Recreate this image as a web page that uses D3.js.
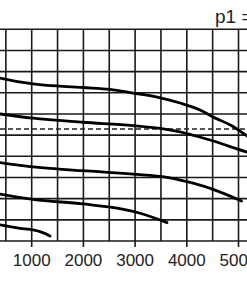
<!DOCTYPE html>
<html>
<head>
<meta charset="utf-8">
<script src="https://cdn.jsdelivr.net/npm/d3@7"></script>
<style>
  html, body { margin: 0; padding: 0; background: #fff; overflow: hidden; }
  svg { display: block; }
  text { font-family: "Liberation Sans Narrow", "Arial Narrow", "Liberation Sans", sans-serif; fill: #222; }
</style>
</head>
<body>
<svg id="chart"></svg>
<script>
const W = 247, H = 296;

// flow values on x (grid every 500), level values on y (10 rows)
const xTicks = [1000, 2000, 3000, 4000, 5000];
const xGrid = [500, 1000, 1500, 2000, 2500, 3000, 3500, 4000, 4500, 5000];
const yGrid = [0, 1, 2, 3, 4, 5, 6, 7, 8, 9, 10];
const dashedLevel = 5.29;
const titleText = 'p1 =';

const curve1 = [[300, 7.75], [387, 7.70], [1025, 7.42], [1992, 7.25], [2515, 7.16], [2959, 6.99], [3424, 6.80], [3868, 6.52], [4255, 6.19], [4507, 5.86], [4894, 5.41], [5164, 4.96], [5300, 4.7]];
const curve2 = [[300, 6.03], [387, 6.00], [1025, 5.80], [1992, 5.61], [2959, 5.45], [3482, 5.32], [3868, 5.16], [4449, 4.77], [5164, 4.20], [5300, 4.1]];
const curve3 = [[300, 3.74], [387, 3.70], [1354, 3.43], [1992, 3.32], [2959, 3.16], [3617, 3.01], [4120, 2.73], [4507, 2.44], [5058, 1.89]];
const curve4 = [[300, 2.26], [387, 2.22], [1025, 1.97], [1992, 1.75], [2650, 1.55], [3095, 1.31], [3617, 0.87]];
const curve5 = [[300, 0.80], [387, 0.76], [774, 0.60], [1025, 0.52], [1160, 0.44], [1354, 0.24]];
const curves = [curve1, curve2, curve3, curve4, curve5];

const x = d3.scaleLinear().domain([0, 5000]).range([-20, 238.5]);
const y = d3.scaleLinear().domain([0, 10]).range([241, 29.3]);

const svg = d3.select('svg#chart')
  .attr('width', W)
  .attr('height', H);

// grid
const gridG = svg.append('g');
gridG.selectAll('line.v').data(xGrid).enter().append('line')
  .attr('x1', d => x(d)).attr('x2', d => x(d))
  .attr('y1', y(10)).attr('y2', d => d % 1000 === 0 ? y(0) + 6 : y(0))
  .attr('stroke', '#1a1a1a')
  .attr('stroke-width', 1.6);
gridG.selectAll('line.h').data(yGrid).enter().append('line')
  .attr('x1', 0).attr('x2', W)
  .attr('y1', d => y(d)).attr('y2', d => y(d))
  .attr('stroke', '#1a1a1a')
  .attr('stroke-width', 1.6);

// dashed reference
svg.append('line')
  .attr('x1', 0).attr('x2', W)
  .attr('y1', y(dashedLevel)).attr('y2', y(dashedLevel))
  .attr('stroke', '#222')
  .attr('stroke-width', 1.3)
  .attr('stroke-dasharray', '5,3');

// curves
const line = d3.line()
  .x(d => x(d[0]))
  .y(d => y(d[1]))
  .curve(d3.curveMonotoneX);

svg.append('g').selectAll('path').data(curves).enter().append('path')
  .attr('d', line)
  .attr('fill', 'none')
  .attr('stroke', '#000')
  .attr('stroke-width', 2.8)
  .attr('stroke-linecap', 'round');

// x labels
svg.append('g').selectAll('text').data(xTicks).enter().append('text')
  .attr('x', d => x(d))
  .attr('y', 265.7)
  .attr('text-anchor', 'middle')
  .attr('font-size', 17)
  .text(d => d);

svg.append('text')
  .attr('x', 215)
  .attr('y', 22.5)
  .attr('font-size', 19)
  .text(titleText);
</script>
</body>
</html>
